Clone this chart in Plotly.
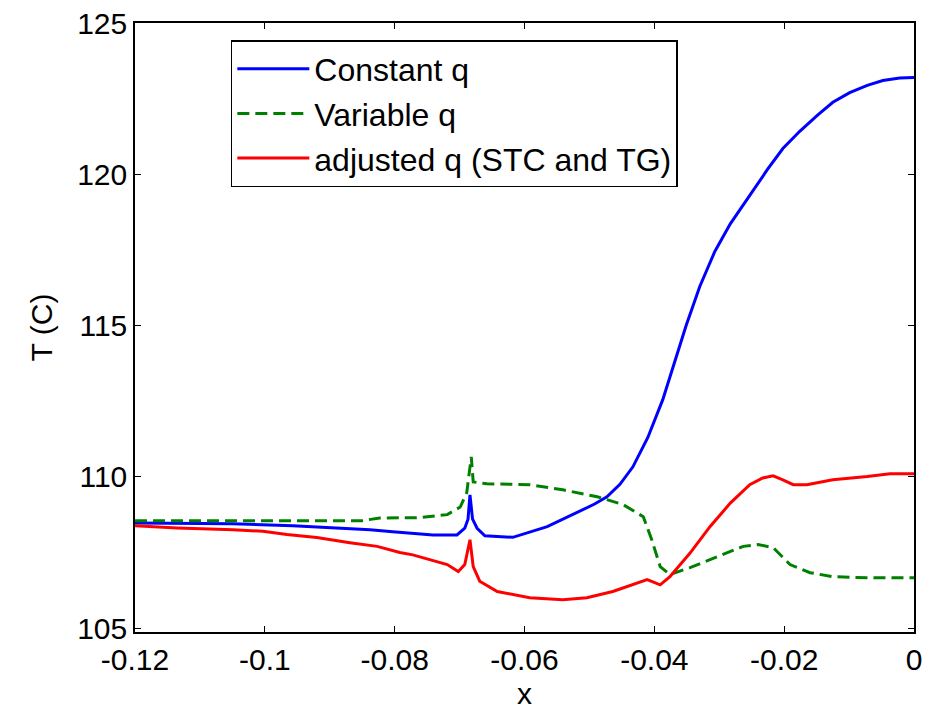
import plotly.graph_objects as go

# ---- data ----
const_x = [-0.12, -0.105, -0.0957, -0.0889, -0.0838, -0.0803, -0.0741, -0.0704, -0.0692, -0.0687,
           -0.0684, -0.0680, -0.0673, -0.0661, -0.0618, -0.0565, -0.0515, -0.0492, -0.0473, -0.0453,
           -0.0433, -0.0410, -0.0387, -0.0369, -0.0351, -0.0330, -0.0307, -0.0283, -0.0256, -0.0226,
           -0.0202, -0.0176, -0.0149, -0.0125, -0.0099, -0.0072, -0.0048, -0.0022, 0.0]
const_y = [108.47, 108.45, 108.38, 108.30, 108.25, 108.18, 108.08, 108.08, 108.30, 108.60,
           109.40, 108.60, 108.30, 108.05, 108.00, 108.35, 108.85, 109.10, 109.34, 109.75,
           110.33, 111.30, 112.55, 113.80, 115.00, 116.29, 117.44, 118.36, 119.20, 120.15,
           120.85, 121.42, 121.95, 122.38, 122.70, 122.94, 123.10, 123.18, 123.20]

var_x = [-0.12, -0.085, -0.0823, -0.0761, -0.0719, -0.0699, -0.0689, -0.0682, -0.0679, -0.0658,
         -0.0592, -0.0541, -0.0488, -0.0448, -0.0417, -0.0404, -0.0391, -0.0376, -0.0345, -0.0304,
         -0.0263, -0.0240, -0.0217, -0.0191, -0.0160, -0.0125, -0.0072, 0.0]
var_y = [108.55, 108.55, 108.64, 108.65, 108.75, 109.00, 109.47, 110.66, 109.83, 109.77,
         109.74, 109.57, 109.34, 109.08, 108.68, 107.92, 107.03, 106.77, 107.00, 107.36,
         107.70, 107.76, 107.66, 107.10, 106.83, 106.70, 106.66, 106.66]

adj_x = [-0.12, -0.1135, -0.1049, -0.1003, -0.0966, -0.0920, -0.0869, -0.0827, -0.0792, -0.0772,
         -0.0719, -0.0702, -0.0692, -0.0684, -0.0679, -0.0669, -0.0642, -0.0592, -0.0541, -0.0504,
         -0.0464, -0.0411, -0.0391, -0.0376, -0.0345, -0.0314, -0.0283, -0.0253, -0.0233, -0.0217,
         -0.0202, -0.0186, -0.0165, -0.0125, -0.0072, -0.0037, 0.0]
adj_y = [108.38, 108.31, 108.25, 108.20, 108.09, 107.99, 107.82, 107.70, 107.50, 107.42,
         107.10, 106.87, 107.10, 107.92, 107.03, 106.55, 106.21, 106.00, 105.94, 106.00,
         106.21, 106.60, 106.43, 106.70, 107.48, 108.36, 109.13, 109.74, 109.96, 110.03,
         109.90, 109.74, 109.74, 109.90, 110.01, 110.10, 110.10]

x_ticks = [-0.12, -0.1, -0.08, -0.06, -0.04, -0.02, 0]
x_tick_text = ["-0.12", "-0.1", "-0.08", "-0.06", "-0.04", "-0.02", "0"]
y_ticks = [105, 110, 115, 120, 125]
y_tick_text = ["105", "110", "115", "120", "125"]

FONT = "Liberation Sans, Arial, Helvetica, sans-serif"

fig = go.Figure()
fig.add_trace(go.Scatter(x=const_x, y=const_y, mode="lines", name="Constant q",
                         line=dict(color="#0000FF", width=3)))
fig.add_trace(go.Scatter(x=var_x, y=var_y, mode="lines", name="Variable q",
                         line=dict(color="#008000", width=3, dash="12px,6px")))
fig.add_trace(go.Scatter(x=adj_x, y=adj_y, mode="lines", name="adjusted q (STC and TG)",
                         line=dict(color="#FF0000", width=3)))

axis_common = dict(showline=True, linecolor="black", linewidth=1.5, mirror="ticks",
                   ticks="inside", ticklen=6, tickcolor="black", showgrid=False, zeroline=False,
                   automargin=False,
                   tickfont=dict(family=FONT, size=30, color="black"))

fig.update_layout(
    width=941, height=710,
    margin=dict(l=135, r=27, t=23, b=78),
    paper_bgcolor="white", plot_bgcolor="white",
    font=dict(family=FONT, size=30, color="black"),
    xaxis=dict(range=[-0.12, 0], tickvals=x_ticks, ticktext=x_tick_text,
               title=dict(text="x", font=dict(family=FONT, size=30), standoff=8),
               **axis_common),
    yaxis=dict(range=[104.87, 125], tickvals=y_ticks, ticktext=y_tick_text,
               title=dict(text="T (C)", font=dict(family=FONT, size=30), standoff=16),
               **axis_common),
    legend=dict(x=0.123, y=0.972, xanchor="left", yanchor="top",
                bgcolor="white", bordercolor="black", borderwidth=1.5,
                font=dict(family=FONT, size=32, color="black"),
                itemwidth=72),
    showlegend=True,
)

fig.write_html("out.html")
